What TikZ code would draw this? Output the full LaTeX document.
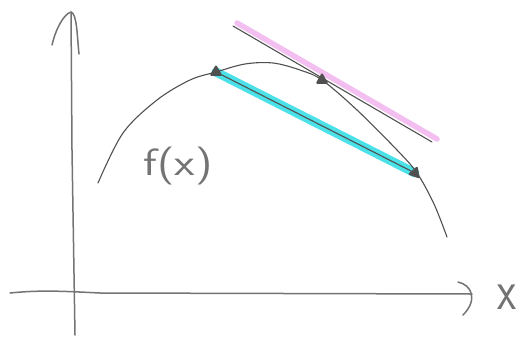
\documentclass[tikz,border=0pt]{standalone}
\usetikzlibrary{shapes.geometric}
\definecolor{pencilgray}{RGB}{80,80,80}
\definecolor{axisgray}{RGB}{115,115,115}
\definecolor{secantcyan}{RGB}{75,225,232}
\definecolor{tangentpink}{RGB}{240,175,238}
\begin{document}
\begin{tikzpicture}[x=1pt,y=-1pt,
  pencil/.style={draw=pencilgray, line width=1.1pt, line cap=round, line join=round},
  axisline/.style={draw=axisgray, line width=1.5pt, line cap=round, line join=round},
  cyanband/.style={draw=secantcyan, line width=9pt, line cap=round},
  pinkband/.style={draw=tangentpink, line width=5.5pt, line cap=round, opacity=0.8},
  marker/.style={regular polygon, regular polygon sides=3, fill=pencilgray, draw=pencilgray, line width=2pt, line join=round, inner sep=0pt, minimum size=11pt},
  handtext/.style={text=axisgray, font=\sffamily}]
\useasboundingbox (0,0) rectangle (519,338);
% axes
\coordinate (yb) at (75,335);
\coordinate (yt) at (71,12);
\coordinate (yl) at (52,45);
\coordinate (yr) at (79,54);
\coordinate (xl) at (10,293);
\coordinate (xr) at (472,294);
\coordinate (xa1) at (458,282);
\coordinate (xa2) at (463,315);
\draw[axisline] (yb) -- (72,150) -- (yt);
\draw[axisline] (yl) .. controls (56,28) and (64,14) .. (yt) .. controls (77,14) and (77,35) .. (yr);
\draw[axisline] (xl) .. controls (40,290) and (60,291) .. (100,293) -- (xr);
\draw[axisline] (xa1) .. controls (472,285) and (478,300) .. (xa2);
\node[handtext, font=\sffamily\fontsize{44}{44}\selectfont, yscale=1.3] (xlab) at (507,297) {x};
% points
\coordinate (A) at (216,72);
\coordinate (B) at (322,80);
\coordinate (C) at (415,173);
\coordinate (T1) at (233,26);
\coordinate (T2) at (432,142);
\coordinate (P1) at (237,23);
\coordinate (P2) at (437,139);
% colour bands
\draw[cyanband] (A) -- (C);
\draw[pinkband] (P1) -- (P2);
% lines
\draw[pencil] (A) -- (C);
\draw[pencil] (T1) -- (T2);
\draw[pencil] plot[smooth, tension=0.55] coordinates {(98,183) (123,133) (157,100) (190,80) (216,72) (245,64) (273,63) (300,70) (322,80) (357,110) (397,150) (417,173) (434,204) (447,237)};
% markers
\node[marker] (mA) at (A) {};
\node[marker] (mB) at (B) {};
\node[marker, rotate=-20] (mC) at (C) {};
% label
\node[handtext, font=\sffamily\fontsize{38}{38}\selectfont, xscale=1.25] (flab) at (178,166) {f(x)};
\end{tikzpicture}
\end{document}
